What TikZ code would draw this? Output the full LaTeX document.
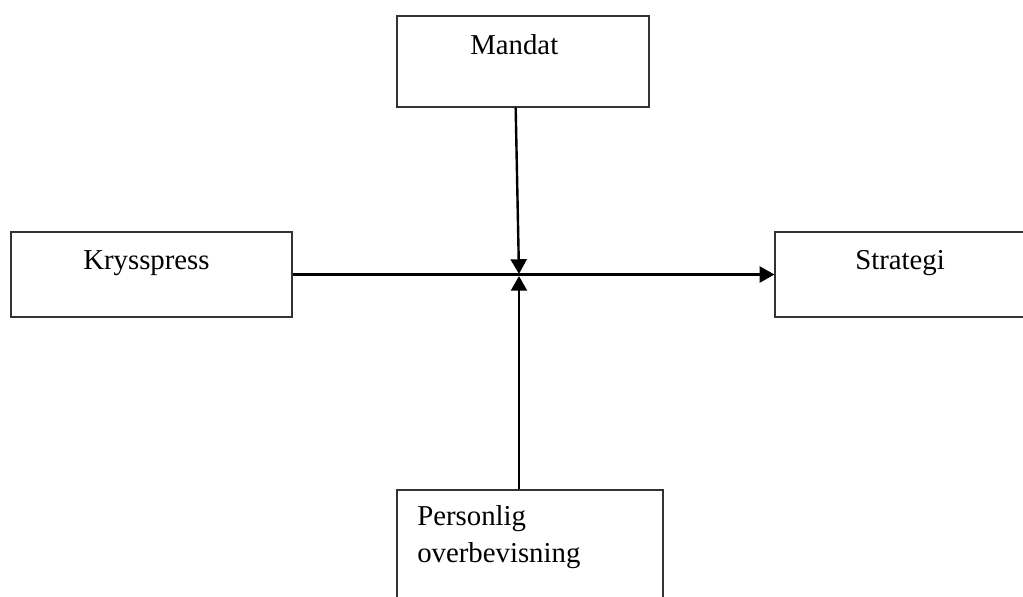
\documentclass[tikz,border=0pt]{standalone}
\usepackage{fontspec}
\setmainfont{Liberation Serif}
\usetikzlibrary{positioning,arrows.meta}

\begin{document}
\begin{tikzpicture}
		[   x=0.75pt,y=-0.75pt,
		    box/.style={draw=black!80,line width=1pt,inner sep=0pt,rectangle},
		    txt/.style={inner sep=0pt,font=\fontsize{21.6}{27.5}\selectfont},
		]
		\tikzset{normal arrow/.style={draw,line width=1.8pt,-{Triangle[length=11pt,width=12pt]}}}
		\useasboundingbox (0,0) rectangle (1023,596);
		
		\node[box,minimum width=189pt,minimum height=68.25pt] (mandat) at (523,61.5) {};
		\node[box,minimum width=210.75pt,minimum height=63.75pt] (kryss) at (151.5,274.5) {};
		\node[box,minimum width=191.25pt,minimum height=63.75pt] (strategi) at (902.5,274.5) {};
		\node[box,minimum width=199.5pt,minimum height=86.25pt] (person) at (530,547.5) {};
		
		\node[txt,anchor=base west] (mandat-t) at (470,54) {Mandat};
		\node[txt,anchor=base west] (kryss-t) at (83,269) {Krysspress};
		\node[txt,anchor=base west] (strategi-t) at (855,269) {Strategi};
		% base = siste linje
		\node[txt,anchor=base west,align=left] (person-t) at (417,562) {Personlig\\overbevisning};
		
		% krysspunkt
		\coordinate (hub) at (519,275);
		
		\path[normal arrow] (kryss.east) -- (strategi.west);
		\path[normal arrow] ([xshift=-5.5pt]mandat.south) -- ([yshift=0.8pt]hub);
		\path[normal arrow] (person.north -| hub) -- ([yshift=-0.8pt]hub);
		\end{tikzpicture}
\end{document}
